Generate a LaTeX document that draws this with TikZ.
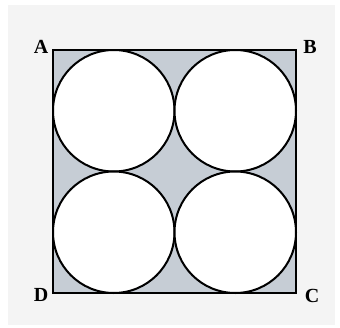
\documentclass[tikz,border=0pt]{standalone}
\usepackage{fontspec}
\setmainfont{Liberation Serif}
\definecolor{shade}{RGB}{198,205,213}
\definecolor{panel}{RGB}{244,244,244}
\begin{document}
\begin{tikzpicture}[x=1pt, y=-1pt, every node/.style={font=\fontsize{20}{20}\selectfont\bfseries, inner sep=0pt}]
    \useasboundingbox (0,0) rectangle (340,327);
    \fill[panel] (8,5) rectangle (335,325);

    % square ABCD
    \draw[line width=2pt, fill=shade] (53,50) rectangle (296,293);

    % four circles
    \foreach \cx in {113.75,235.25}
        \foreach \cy in {110.75,232.25}
            \draw[line width=2pt, fill=white] (\cx,\cy) circle (60.75pt);

    % corner labels
    \node (A) at (41,47) {A};
    \node (B) at (310,47) {B};
    \node (C) at (312,296) {C};
    \node (D) at (41,295) {D};
\end{tikzpicture}
\end{document}
